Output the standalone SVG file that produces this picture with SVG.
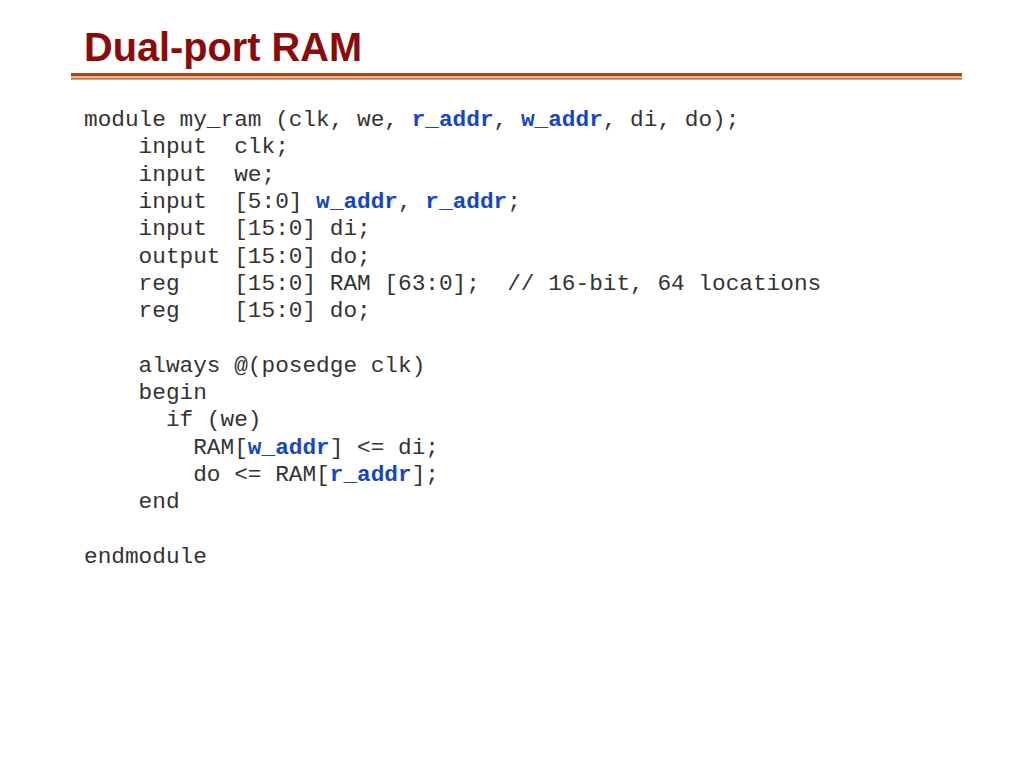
<svg xmlns="http://www.w3.org/2000/svg" width="1024" height="768" viewBox="0 0 1024 768">
<style>
.code{font-family:"Liberation Mono","Courier New",monospace;font-size:22.75px;fill:#333333;white-space:pre}
.kw{font-weight:bold;fill:#1747C0}
.title{font-family:"Liberation Sans",Arial,sans-serif;font-weight:bold;font-size:40px;fill:#8B0B0B}
</style>
<rect width="1024" height="768" fill="#ffffff"/>
<g id="title">
<text class="title" x="84" y="61" textLength="278" lengthAdjust="spacingAndGlyphs">Dual-port RAM</text>
<rect x="71" y="73" width="891" height="3.5" fill="#A3461B"/>
<rect x="71" y="76.5" width="891" height="1.8" fill="#F5B98C"/>
<rect x="71" y="78.3" width="891" height="1.2" fill="#A3461B"/>
</g>
<g id="code" xml:space="preserve">
<text class="code" x="84" y="126">module my_ram (clk, we, <tspan class="kw">r_addr</tspan>, <tspan class="kw">w_addr</tspan>, di, do);</text>
<text class="code" x="84" y="153.3">    input  clk;</text>
<text class="code" x="84" y="180.6">    input  we;</text>
<text class="code" x="84" y="207.9">    input  [5:0] <tspan class="kw">w_addr</tspan>, <tspan class="kw">r_addr</tspan>;</text>
<text class="code" x="84" y="235.2">    input  [15:0] di;</text>
<text class="code" x="84" y="262.5">    output [15:0] do;</text>
<text class="code" x="84" y="289.8">    reg    [15:0] RAM [63:0];  // 16-bit, 64 locations</text>
<text class="code" x="84" y="317.1">    reg    [15:0] do;</text>
<text class="code" x="84" y="371.7">    always @(posedge clk)</text>
<text class="code" x="84" y="399">    begin</text>
<text class="code" x="84" y="426.3">      if (we)</text>
<text class="code" x="84" y="453.6">        RAM[<tspan class="kw">w_addr</tspan>] &lt;= di;</text>
<text class="code" x="84" y="480.9">        do &lt;= RAM[<tspan class="kw">r_addr</tspan>];</text>
<text class="code" x="84" y="508.2">    end</text>
<text class="code" x="84" y="562.8">endmodule</text>
</g>
</svg>
